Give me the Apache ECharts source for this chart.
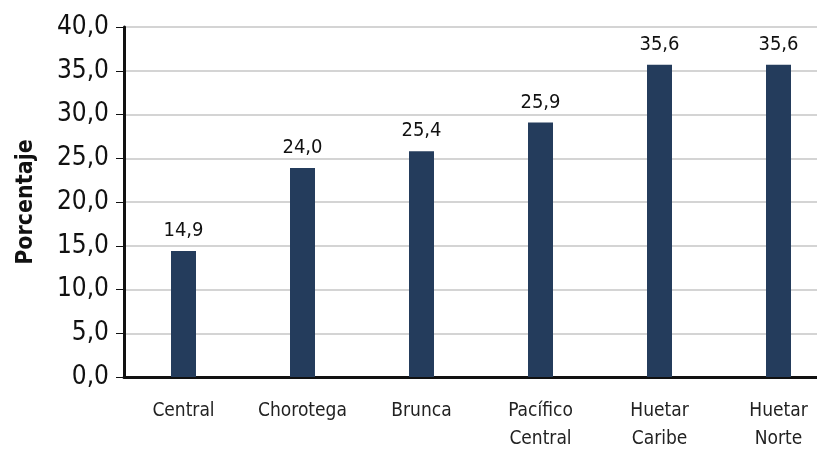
<!DOCTYPE html>
<html><head><meta charset="utf-8">
<script src="https://cdn.jsdelivr.net/npm/echarts@6/dist/echarts.min.js"></script>
<style>html,body{margin:0;padding:0;background:#fff;}#c{width:817px;height:450px;}</style>
</head><body><div id="c"></div>
<script>
var categories = ['Central', 'Chorotega', 'Brunca', 'Pacífico\nCentral', 'Huetar\nCaribe', 'Huetar\nNorte'];
var barValues = [14.4, 23.9, 25.8, 29.1, 35.7, 35.7];
var barLabels = ['14,9', '24,0', '25,4', '25,9', '35,6', '35,6'];
var yTicks = [0, 5, 10, 15, 20, 25, 30, 35, 40];
var FONT = "'DejaVu Sans Condensed', 'Liberation Sans Narrow', sans-serif";
var chart = echarts.init(document.getElementById('c'));
chart.setOption({
  animation: false,
  grid: { left: 124, top: 27, width: 714, height: 350, containLabel: false, outerBoundsMode: 'none' },
  xAxis: {
    type: 'category', data: categories,
    axisLine: { lineStyle: { color: '#111', width: 3 } },
    axisTick: { show: false },
    axisLabel: { interval: 0, fontFamily: FONT, fontSize: 19, color: '#222', margin: 20, lineHeight: 28 }
  },
  yAxis: {
    type: 'value', min: 0, max: 40, interval: 5,
    name: 'Porcentaje', nameLocation: 'middle', nameGap: 86,
    nameTextStyle: { fontFamily: FONT, fontSize: 23, fontWeight: 'bold', color: '#111' },
    axisLine: { show: true, lineStyle: { color: '#111', width: 3 } },
    axisTick: { show: true, length: 8, lineStyle: { color: '#111', width: 1 } },
    axisLabel: { fontFamily: FONT, fontSize: 26, color: '#111', margin: 15,
      formatter: function (v) { return v.toFixed(1).replace('.', ','); } },
    splitLine: { lineStyle: { color: '#d4d4d4', width: 2 } }
  },
  series: [{
    type: 'bar', data: barValues, barWidth: 25,
    itemStyle: { color: '#243c5c' },
    label: { show: true, position: 'top', distance: 10, fontFamily: FONT, fontSize: 20, color: '#111',
      formatter: function (p) { return barLabels[p.dataIndex]; } }
  }]
});
</script></body></html>
